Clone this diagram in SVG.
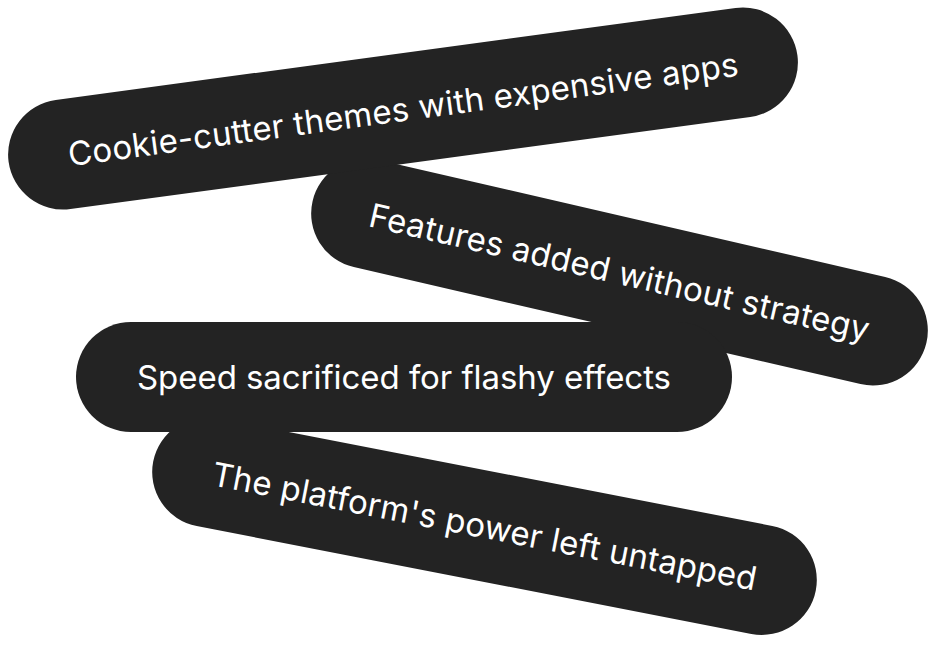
<svg xmlns="http://www.w3.org/2000/svg" width="938" height="645" viewBox="0 0 938 645">
<style>
.p{fill:#232323}
.t{fill:#fff;font-family:"Inter","Liberation Sans",sans-serif;font-size:33px;text-anchor:middle;dominant-baseline:central}
</style>
<rect width="938" height="645" fill="#fff"/>
<g id="node-4" transform="rotate(11 484.5 526)"><rect class="p" x="147" y="471" width="675" height="110" rx="55"/><text class="t" x="484.5" y="526" textLength="554">The platform's power left untapped</text></g>
<g id="node-2" transform="rotate(13 619.5 272)"><rect class="p" x="304.5" y="217" width="630" height="110" rx="55"/><text class="t" x="619.5" y="272" textLength="512">Features added without strategy</text></g>
<g id="node-1" transform="rotate(-7.7 403 108.5)"><rect class="p" x="5" y="53.5" width="796" height="110" rx="55"/><text class="t" x="403" y="109" textLength="676">Cookie-cutter themes with expensive apps</text></g>
<g id="node-3"><rect class="p" x="76" y="322" width="656" height="110" rx="55"/><text class="t" x="404" y="377" textLength="534">Speed sacrificed for flashy effects</text></g>
<g id="connectors"/>
</svg>
